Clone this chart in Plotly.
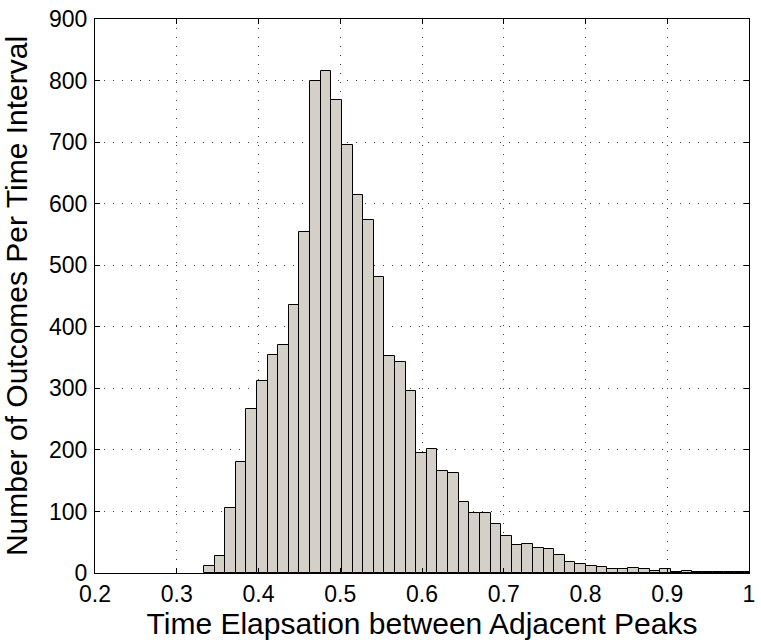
import plotly.graph_objects as go

# Histogram bins (first edge and width)
bin_start = 0.3333
bin_width = 0.012982
counts = [11, 28, 106, 180, 266, 312, 354, 370, 436, 554,
          799, 815, 769, 695, 614, 573, 481, 353, 342, 296,
          195, 201, 165, 163, 116, 98, 98, 79, 60, 45,
          47, 41, 39, 29, 18, 14, 12, 9, 7, 6,
          8, 6, 4, 6, 2, 4, 2, 1, 1, 1,
          2, 1]
centers = [bin_start + (i + 0.5) * bin_width for i in range(len(counts))]

x_ticks = [0.2, 0.3, 0.4, 0.5, 0.6, 0.7, 0.8, 0.9, 1.0]
x_ticklabels = ["0.2", "0.3", "0.4", "0.5", "0.6", "0.7", "0.8", "0.9", "1"]
y_ticks = [0, 100, 200, 300, 400, 500, 600, 700, 800, 900]

fig = go.Figure()
fig.add_trace(go.Bar(
    x=centers, y=counts, width=bin_width,
    marker=dict(color="#D4D0C8", line=dict(color="black", width=1)),
    showlegend=False,
))

tick_font = dict(family="Liberation Sans, Arial, sans-serif", size=23, color="black")
title_font = dict(family="Liberation Sans, Arial, sans-serif", size=30, color="black")

common = dict(
    showline=True, linecolor="black", linewidth=1, mirror="allticks",
    ticks="inside", ticklen=5, tickcolor="black",
    showgrid=True, gridcolor="#444444", griddash="1px,8px", gridwidth=1,
    zeroline=False, tickfont=tick_font,
)

fig.update_layout(
    width=761, height=643,
    margin=dict(l=95, r=6, t=17, b=70),
    paper_bgcolor="white", plot_bgcolor="white",
    bargap=0,
    font=tick_font,
    xaxis=dict(
        range=[0.2, 1.0], tickvals=x_ticks, ticktext=x_ticklabels,
        title=dict(text="Time Elapsation between Adjacent Peaks", standoff=0, font=title_font),
        **common,
    ),
    yaxis=dict(
        range=[0, 900], tickvals=y_ticks,
        title=dict(text="Number of Outcomes Per Time Interval", standoff=12, font=title_font),
        ticklabelstandoff=2,
        **common,
    ),
)

fig.write_html("out.html")
